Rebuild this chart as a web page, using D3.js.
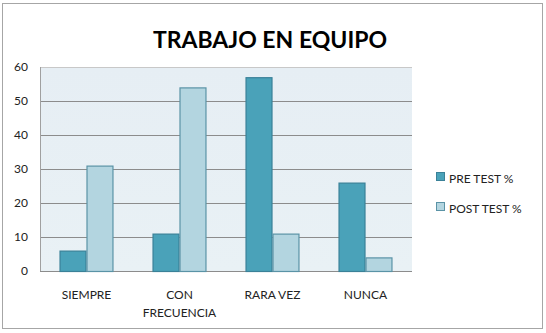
<!DOCTYPE html>
<html><head><meta charset="utf-8">
<script src="https://cdn.jsdelivr.net/npm/d3@7"></script>
<style>body{margin:0;background:#fff}svg{display:block}</style>
</head><body>
<svg id="c" width="546" height="333"></svg>
<script>
const categories = ["SIEMPRE", "CON\nFRECUENCIA", "RARA VEZ", "NUNCA"];
const seriesNames = ["PRE TEST %", "POST TEST %"];
const preTest = [6, 11, 57, 26];
const postTest = [31, 54, 11, 4];
const yTicks = [0, 10, 20, 30, 40, 50, 60];
const title = "TRABAJO EN EQUIPO";

const colors = ["#4aa2b9", "#b3d5e0"];
const strokes = ["#3a8198", "#5a93a6"];
const font = "Lato, 'Open Sans', sans-serif";

const svg = d3.select("#c");
svg.append("rect").attr("x", 2.5).attr("y", 3.5).attr("width", 540).attr("height", 325)
  .attr("fill", "#fff").attr("stroke", "#a6a6a6").attr("stroke-width", 1);

const L = 40, R = 412, T = 67, B = 271;
const x = d3.scaleBand().domain(categories).range([L, R]).paddingInner(0.42).paddingOuter(0.21);
const xs = d3.scaleBand().domain(seriesNames).range([0, x.bandwidth()]);
const y = d3.scaleLinear().domain([0, 60]).range([B, T]);

const grad = svg.append("defs").append("linearGradient").attr("id", "bg").attr("x1", 0).attr("y1", 0).attr("x2", 0).attr("y2", 1);
grad.append("stop").attr("offset", 0).attr("stop-color", "#e6eef4");
grad.append("stop").attr("offset", 1).attr("stop-color", "#e9f1f5");
svg.append("rect").attr("x", L).attr("y", T).attr("width", R - L).attr("height", B - T).attr("fill", "url(#bg)");

// gridlines
svg.append("g").selectAll("line").data(yTicks.filter(d => d > 0)).join("line")
  .attr("x1", L).attr("x2", R).attr("y1", d => Math.round(y(d)) + 0.5).attr("y2", d => Math.round(y(d)) + 0.5)
  .attr("stroke", d => d === 60 ? "#c8c8c8" : "#8c8c8c").attr("stroke-width", 1.2);
// left axis line
svg.append("line").attr("x1", L + 0.5).attr("x2", L + 0.5).attr("y1", T).attr("y2", B).attr("stroke", "#a0a0a0");
// bottom axis
svg.append("line").attr("x1", L).attr("x2", R).attr("y1", B + 0.5).attr("y2", B + 0.5).attr("stroke", "#8c8c8c").attr("stroke-width", 1.2);

// y labels
const yAxis = d3.axisLeft(y).tickValues(yTicks).tickSize(0).tickPadding(12);
const ya = svg.append("g").attr("transform", `translate(${L},0)`).call(yAxis);
ya.select(".domain").remove();
ya.selectAll("text").attr("font-family", font).attr("font-size", 12).attr("fill", "#222");

// bars
const series = [preTest, postTest];
series.forEach((vals, si) => {
  svg.append("g").selectAll("rect").data(vals).join("rect")
    .attr("x", (d, i) => x(categories[i]) + xs(seriesNames[si]) + 0.5)
    .attr("y", d => y(d) + 0.5)
    .attr("width", xs.bandwidth() - 1)
    .attr("height", d => B - y(d))
    .attr("fill", colors[si]).attr("stroke", strokes[si]).attr("stroke-width", 1.2);
});

// x labels
const xl = svg.append("g");
categories.forEach(c => {
  const t = xl.append("text").attr("x", x(c) + x.bandwidth() / 2).attr("y", 299)
    .attr("text-anchor", "middle").attr("font-family", font).attr("font-size", 12).attr("fill", "#222");
  c.split("\n").forEach((line, i) => t.append("tspan").attr("x", x(c) + x.bandwidth() / 2).attr("dy", i ? 18 : 0).text(line));
});

// title
svg.append("text").attr("x", 270).attr("y", 48).attr("text-anchor", "middle")
  .attr("font-family", font).attr("font-weight", "bold").attr("font-size", 23).attr("fill", "#000").text(title);

// legend
const lg = svg.append("g");
seriesNames.forEach((n, i) => {
  lg.append("rect").attr("x", 436.5).attr("y", 172.5 + i * 30).attr("width", 8).attr("height", 8)
    .attr("fill", colors[i]).attr("stroke", strokes[i]);
  lg.append("text").attr("x", 449).attr("y", 183 + i * 30).attr("font-family", font).attr("font-size", 12)
    .attr("fill", "#222").text(n);
});
</script>
</body></html>
